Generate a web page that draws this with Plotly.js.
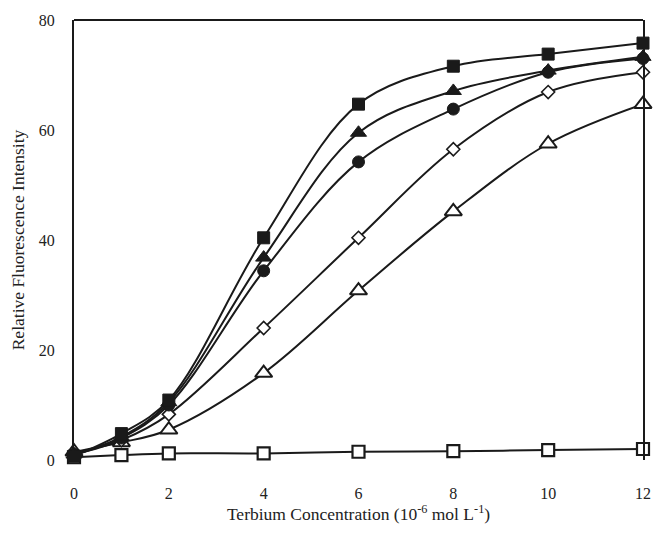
<!DOCTYPE html>
<html>
<head>
<meta charset="utf-8">
<script src="https://cdn.plot.ly/plotly-3.0.1.min.js"></script>
<style>html,body{margin:0;padding:0;background:#fff;}#chart{width:654px;height:537px;}</style>
</head>
<body>
<div id="chart"></div>
<script>
const conc = [0, 1, 2, 4, 6, 8, 10, 12];
const filledSquare   = [0.7, 4.8, 10.9, 40.4, 64.7, 71.6, 73.8, 75.8];
const filledTriangle = [1.0, 4.2, 10.5, 36.8, 59.5, 67.1, 70.8, 73.3];
const filledCircle   = [1.0, 4.0, 10.0, 34.4, 54.2, 63.8, 70.5, 73.0];
const openDiamond    = [1.0, 3.6, 8.3, 24.0, 40.4, 56.5, 66.9, 70.5];
const openTriangle   = [1.5, 3.2, 5.5, 15.8, 30.8, 45.2, 57.5, 64.7];
const openSquare     = [0.5, 0.9, 1.2, 1.2, 1.5, 1.6, 1.8, 2.0];

const xTicks = [0, 2, 4, 6, 8, 10, 12];
const yTicks = [0, 20, 40, 60, 80];

function series(y, symbol, size, fill, lw) {
  return {
    x: conc, y: y, type: 'scatter', mode: 'lines+markers', cliponaxis: false,
    line: {color: '#1a1a1a', width: 2, shape: 'spline', smoothing: 1},
    marker: {symbol: symbol, size: size, color: fill, line: {color: '#1a1a1a', width: lw}},
    showlegend: false
  };
}

const data = [
  series(openSquare, 'square', 12, '#ffffff', 2.2),
  series(openTriangle, 'triangle-up', 15, '#ffffff', 2),
  series(openDiamond, 'diamond', 10, '#ffffff', 1.6),
  series(filledCircle, 'circle', 12, '#1a1a1a', 1),
  series(filledTriangle, 'triangle-up', 14, '#1a1a1a', 1),
  series(filledSquare, 'square', 12, '#1a1a1a', 1)
];

const font = {family: '"Liberation Serif", "Times New Roman", serif', color: '#222', size: 16};

const layout = {
  width: 654, height: 537,
  margin: {l: 74, r: 11, t: 20, b: 77},
  paper_bgcolor: '#fff', plot_bgcolor: '#fff',
  font: font,
  xaxis: {
    range: [0, 12], tickvals: xTicks, ticktext: xTicks.map(String),
    showgrid: false, zeroline: false, showline: false, ticks: '',
    ticklabelstandoff: 22, tickfont: {size: 16},
    title: {text: 'Terbium Concentration (10<sup>-6</sup> mol L<sup>-1</sup>)', font: {size: 17.5}, standoff: 4}
  },
  yaxis: {
    range: [0, 80], tickvals: yTicks, ticktext: yTicks.map(String),
    showgrid: false, zeroline: false, showline: true, mirror: true,
    linecolor: '#1a1a1a', linewidth: 2, ticks: '',
    ticklabelstandoff: 14, tickfont: {size: 16},
    title: {text: 'Relative Fluorescence Intensity', font: {size: 17.5}, standoff: 10}
  },
  shapes: [
    {type: 'line', xref: 'paper', yref: 'paper', x0: 0, x1: 1, y0: 1, y1: 1,
     line: {color: '#1a1a1a', width: 2}}
  ]
};

Plotly.newPlot('chart', data, layout, {displayModeBar: false, staticPlot: true});
</script>
</body>
</html>
